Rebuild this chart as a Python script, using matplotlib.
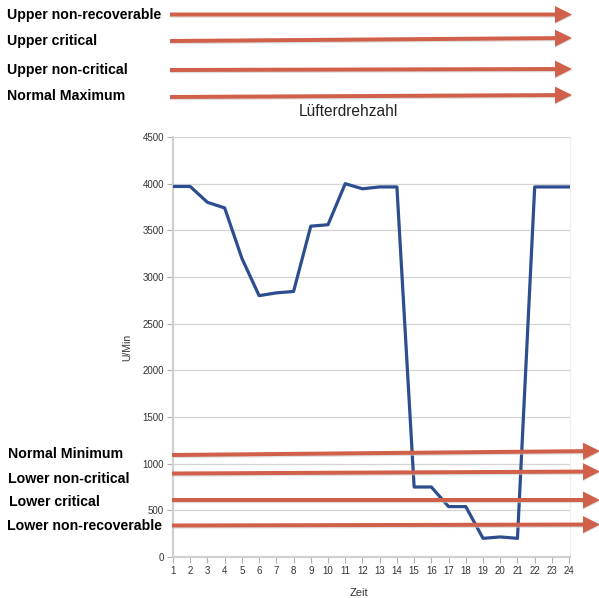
import numpy as np
import matplotlib
matplotlib.use("Agg")
import matplotlib.pyplot as plt
from matplotlib.patches import FancyArrow

# -----------------------------
# Data
# -----------------------------
zeit = list(range(1, 25))
drehzahl = [3970, 3970, 3800, 3740, 3200, 2800, 2830, 2845, 3545, 3560,
            4000, 3945, 3965, 3965, 750, 750, 540, 540, 200, 215,
            200, 3965, 3965, 3965]
y_ticks = [0, 500, 1000, 1500, 2000, 2500, 3000, 3500, 4000, 4500]

upper_labels = ["Upper non-recoverable", "Upper critical",
                "Upper non-critical", "Normal Maximum"]
lower_labels = ["Normal Minimum", "Lower non-critical",
                "Lower critical", "Lower non-recoverable"]

plt.rcParams["font.family"] = ["Liberation Sans", "DejaVu Sans"]

W, H = 599, 598
fig = plt.figure(figsize=(W / 100, H / 100), dpi=100)

# main axes, placed in pixel coords (top-based)
ax_l, ax_r, ax_t, ax_b = 173, 570, 137, 557
ax = fig.add_axes([ax_l / W, 1 - ax_b / H, (ax_r - ax_l) / W, (ax_b - ax_t) / H])
ax.plot(zeit, drehzahl, color="#2c4d8e", lw=2.3, zorder=3)
ax.set_xlim(1, 24.05)
ax.set_ylim(0, 4500)
ax.set_xticks(zeit)
ax.set_yticks(y_ticks)
ax.tick_params(labelsize=7, colors="#b0b0b0", labelcolor="#333333",
               length=4, width=0.8, pad=2.5)
ax.grid(axis="y", color="#d4d4d4", lw=0.9)
ax.set_axisbelow(True)
for s in ["left", "bottom"]:
    ax.spines[s].set_color("#d0d0d0")
    ax.spines[s].set_linewidth(1.6)
ax.spines["top"].set_visible(False)
ax.spines["right"].set_color("#eeeeee")
ax.spines["right"].set_linewidth(0.8)

# overlay in pixel coordinates for labels and arrows
ov = fig.add_axes([0, 0, 1, 1], zorder=5)
ov.set_xlim(0, W)
ov.set_ylim(H, 0)
ov.axis("off")
ov.patch.set_alpha(0)

ov.text(348, 111, "Lüfterdrehzahl", fontsize=11.2, ha="center", va="center", color="#222222")
ov.text(127, 347, "U/Min", fontsize=7.5, rotation=90, ha="center", va="center", color="#333333")
ov.text(359, 593, "Zeit", fontsize=8, ha="center", va="center", color="#333333")

label_y_up = [15, 41, 70, 96]
label_y_lo = [454, 479, 502, 526]
label_x_lo = [8, 8, 9, 7]
for lab, ly in zip(upper_labels, label_y_up):
    ov.text(7, ly, lab, fontsize=10.2, fontweight="bold", ha="left", va="center", color="black")
for lab, ly, lx in zip(lower_labels, label_y_lo, label_x_lo):
    ov.text(lx, ly, lab, fontsize=10.2, fontweight="bold", ha="left", va="center", color="black")

arrows_up = [(170, 14.5, 572, 14.5), (170, 41, 572, 38), (170, 70, 572, 69), (170, 97, 572, 95)]
arrows_lo = [(172, 455, 600, 451), (172, 473.5, 600, 471.5), (172, 500, 600, 500), (172, 525.5, 600, 524.5)]
for x0, y0, x1, y1 in arrows_up + arrows_lo:
    shadow = FancyArrow(x0, y0 + 1.2, x1 - x0, y1 - y0, width=4, head_width=17,
                        head_length=17, length_includes_head=True,
                        color="#c8c8c8", lw=0, alpha=0.6)
    ov.add_patch(shadow)
    arr = FancyArrow(x0, y0, x1 - x0, y1 - y0, width=4, head_width=17,
                     head_length=17, length_includes_head=True,
                     color="#d1604b", lw=0)
    ov.add_patch(arr)

plt.savefig("out.png", dpi=100)
